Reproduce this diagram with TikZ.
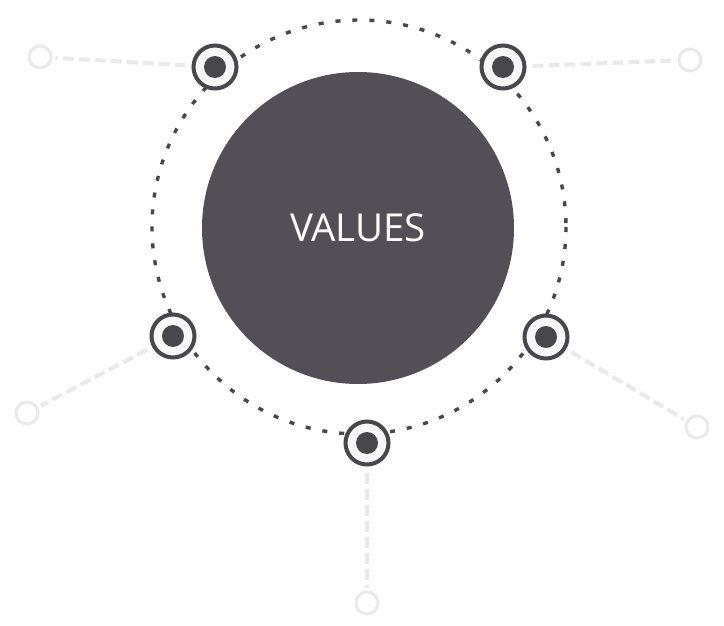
\documentclass[tikz,border=0pt]{standalone}
\usepackage{fontspec}
\setmainfont{Open Sans}
\definecolor{core}{HTML}{525056}
\definecolor{ring}{HTML}{48474B}
\definecolor{faint}{HTML}{EAEAEA}
\begin{document}
\begin{tikzpicture}[x=1pt,y=-1pt,
  hub/.style={circle,draw=ring,line width=4pt,fill=white!97!black,minimum size=43pt,inner sep=0pt},
  leaf/.style={circle,draw=faint,line width=3pt,minimum size=22pt,inner sep=0pt},
  link/.style={draw=faint,line width=4pt,dash pattern=on 11pt off 5pt}]
\useasboundingbox (0,0) rectangle (724,626);
\fill[white] (0,0) rectangle (724,626);
\foreach \r in {238,234,...,158} \fill[black,fill opacity=0.0014] (359,228) circle (\r);
\draw[ring,line width=3.4pt,dash pattern=on 5pt off 12pt] (359,227) circle (207);
\node[circle,fill=core,minimum size=312pt,inner sep=0pt,text=white,font=\fontsize{38.5}{38.5}\selectfont] (core) at (358,228) {VALUES};
\node[hub] (n1) at (215,67) {};
\node[hub] (n2) at (503,67) {};
\node[hub] (n3) at (173,336) {};
\node[hub] (n4) at (546,337) {};
\node[hub] (n5) at (367,443) {};
\foreach \n in {n1,n2,n3,n4,n5} \fill[ring] (\n) circle (11);
\node[leaf] (o1) at (40,57) {};
\node[leaf] (o2) at (690,60) {};
\node[leaf] (o3) at (27,413) {};
\node[leaf] (o4) at (697,427) {};
\node[leaf] (o5) at (367,603) {};
\draw[link,shorten >=3pt,shorten <=6pt] (n1) -- (o1);
\draw[link,shorten >=3pt,shorten <=6pt] (n2) -- (o2);
\draw[link,shorten >=3pt,shorten <=6pt] (n3) -- (o3);
\draw[link,shorten >=3pt,shorten <=6pt] (n4) -- (o4);
\draw[link,shorten >=3pt,shorten <=6pt] (n5) -- (o5);
\end{tikzpicture}
\end{document}
